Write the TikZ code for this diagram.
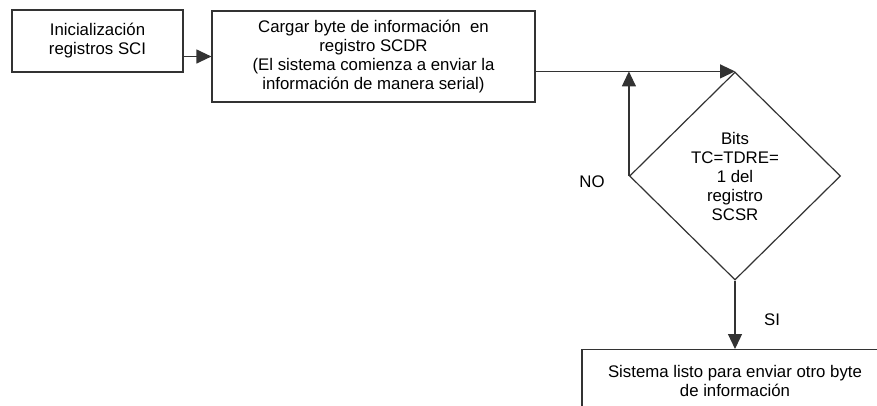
\documentclass[tikz,border=0pt]{standalone}
\usepackage{fontspec}
\setmainfont{Liberation Sans}
\usetikzlibrary{arrows.meta,shapes.geometric}
\begin{document}
\begin{tikzpicture}[x=1pt,y=-1pt,
  every node/.style={font=\fontsize{16.8}{19}\selectfont, text=black},
  procbox/.style={draw=black!80, line width=1.2pt, align=center, inner sep=0pt},
  decbox/.style={diamond, draw=black!80, line width=1.2pt, align=center, inner sep=0pt, minimum width=211pt, minimum height=208pt},
  lbl/.style={inner sep=0pt},
  arr/.style={draw=black!80, line width=1.2pt, -{Triangle[length=15pt,width=14pt]}}]
\clip (0,0) rectangle (877,405);
\fill[white] (0,0) rectangle (877,405);
\node[procbox, minimum width=171pt, minimum height=62pt] (b1) at (97.5,41) {Inicialización\\registros SCI};
\node[procbox, minimum width=323pt, minimum height=91pt] (b2) at (373.5,56.5) {Cargar byte de información\ \ en\\registro SCDR\\(El sistema comienza a enviar la\\información de manera serial)};
\node[decbox] (d) at (735,176) {Bits\\TC=TDRE=\\1 del\\registro\\SCSR};
\node[procbox, minimum width=306pt, minimum height=62pt, anchor=north] (b3) at (735,349) {Sistema listo para enviar otro byte\\de información};
\node[lbl] (no) at (592,182) {NO};
\node[lbl] (si) at (772,320) {SI};
\draw[arr] (b1.east |- b2.west) -- (b2.west);
\draw[arr] (b2.east |- d.north) -- (d.north);
\draw[arr] (d.west) -- (d.west |- d.north);
\draw[arr] (d.south) -- (b3.north);
\end{tikzpicture}
\end{document}
